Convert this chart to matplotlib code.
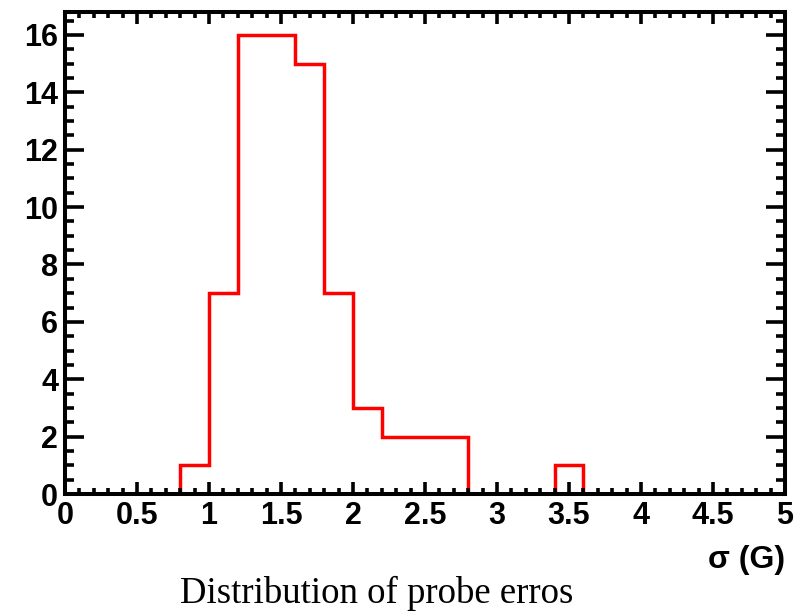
import numpy as np
import matplotlib.pyplot as plt
from matplotlib.ticker import MultipleLocator

# histogram of probe errors, bins of 0.2 G from 0 to 5
bin_edges = np.round(np.arange(0, 5.0001, 0.2), 2)
counts = [0, 0, 0, 0, 1, 7, 16, 16, 15, 7, 3, 2, 2, 2,
          0, 0, 0, 1, 0, 0, 0, 0, 0, 0, 0]
x_ticks = [0, 0.5, 1, 1.5, 2, 2.5, 3, 3.5, 4, 4.5, 5]
x_tick_labels = ["0", "0.5", "1", "1.5", "2", "2.5", "3", "3.5", "4", "4.5", "5"]

plt.rcParams["font.family"] = "Liberation Sans"
plt.rcParams["font.weight"] = "bold"

fig = plt.figure(figsize=(7.94, 6.13), dpi=100)
ax = fig.add_axes([0.0819, 0.1941, 0.9068, 0.7863])

ax.stairs(counts, bin_edges, color="red", linewidth=2.5)

ax.set_xlim(0, 5)
ax.set_ylim(0, max(counts) * 1.05)

ax.set_xticks(x_ticks)
ax.set_xticklabels(x_tick_labels)
ax.xaxis.set_minor_locator(MultipleLocator(0.1))
ax.yaxis.set_major_locator(MultipleLocator(2))
ax.yaxis.set_minor_locator(MultipleLocator(0.5))

ax.tick_params(axis="both", which="both", direction="in", width=2.6,
               top=True, right=True, labelsize=22)
ax.tick_params(axis="x", which="major", length=8.5, pad=5)
ax.tick_params(axis="x", which="minor", length=4.3)
ax.tick_params(axis="y", which="major", length=13.5, pad=5)
ax.tick_params(axis="y", which="minor", length=6.5)
for lbl in ax.get_xticklabels() + ax.get_yticklabels():
    lbl.set_fontweight("bold")

for s in ax.spines.values():
    s.set_linewidth(2.9)

fig.text(0.9887, 0.086, "σ (G)", ha="right", va="center",
         fontsize=23, fontweight="bold")
fig.text(0.475, 0.032, "Distribution of probe erros", ha="center",
         va="center", fontsize=26.5, fontweight="normal",
         family="Liberation Serif")

fig.savefig("out.png", dpi=100)
